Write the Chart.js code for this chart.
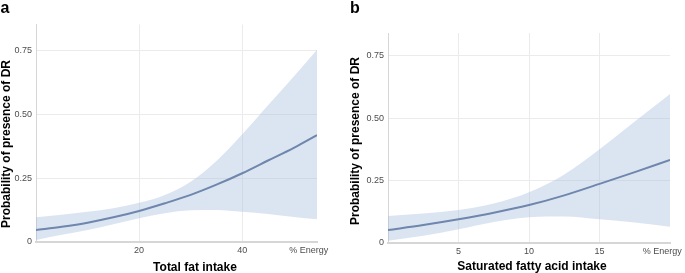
<!DOCTYPE html>
<html>
<head>
<meta charset="utf-8">
<script src="https://cdn.jsdelivr.net/npm/chart.js@4/dist/chart.umd.min.js"></script>
<style>
  html, body { margin: 0; padding: 0; background: #ffffff; }
  #wrap { position: relative; width: 685px; height: 273px; overflow: hidden; }
  canvas { position: absolute; top: 0; }
</style>
</head>
<body>
<div id="wrap">
  <canvas id="ca" width="340" height="273" style="left:0px"></canvas>
  <canvas id="cb" width="345" height="273" style="left:340px"></canvas>
</div>
<script>
// ---- Data ----
const yTickValues = [0, 0.25, 0.5, 0.75];
const unitLabel = '% Energy';

// Panel a: Total fat intake (% energy)
const fatX     = [0, 5, 10, 15, 20, 25, 30, 35, 40, 45, 50, 54.5];
const fatFit   = [0.047, 0.060, 0.076, 0.097, 0.122, 0.152, 0.185, 0.225, 0.270, 0.320, 0.370, 0.420];
const fatUpper = [0.097, 0.107, 0.119, 0.133, 0.154, 0.185, 0.237, 0.318, 0.423, 0.537, 0.650, 0.755];
const fatLower = [0.008, 0.028, 0.047, 0.070, 0.093, 0.113, 0.125, 0.126, 0.119, 0.110, 0.098, 0.089];
const fatTicks = [20, 40];

// Panel b: Saturated fatty acid intake (% energy)
const sfaX     = [0, 2.5, 5, 7.5, 10, 12.5, 15, 17.5, 20];
const sfaFit   = [0.052, 0.072, 0.095, 0.121, 0.152, 0.191, 0.237, 0.284, 0.333];
const sfaUpper = [0.108, 0.118, 0.132, 0.158, 0.203, 0.275, 0.376, 0.487, 0.598];
const sfaLower = [0.009, 0.029, 0.055, 0.084, 0.103, 0.106, 0.095, 0.082, 0.065];
const sfaTicks = [5, 10, 15];

// ---- Styles ----
const FONT = '"Liberation Sans", Arial, Helvetica, sans-serif';
const LINE_COLOR = '#6f86ad';
const BAND_COLOR = 'rgba(165,188,220,0.40)';
const GRID_COLOR = '#ebebeb';
const AXIS_COLOR = '#d6d6d6';
const TICK_COLOR = '#4d4d4d';

function pts(xs, ys) { return xs.map((x, i) => ({ x: x, y: ys[i] })); }

function makeChart(id, d, L) {
  const textPlugin = {
    id: 'texts' + id,
    afterDraw(chart) {
      const ctx = chart.ctx;
      ctx.save();
      ctx.fillStyle = '#000000';
      ctx.textAlign = 'center';
      ctx.textBaseline = 'alphabetic';
      ctx.font = 'bold 16px ' + FONT;
      ctx.fillText(d.letter, L.letterX, L.letterY);
      ctx.textBaseline = 'middle';
      ctx.font = 'bold 12px ' + FONT;
      ctx.fillText(d.xTitle, L.xTitleX, L.xTitleY);
      ctx.translate(L.yTitleX, L.yTitleY);
      ctx.rotate(-Math.PI / 2);
      ctx.fillText(d.yTitle, 0, 0);
      ctx.restore();
    }
  };
  return new Chart(document.getElementById(id), {
    type: 'line',
    data: {
      datasets: [
        { data: pts(d.x, d.fit), borderColor: LINE_COLOR, borderWidth: 2, pointRadius: 0,
          fill: false, cubicInterpolationMode: 'monotone' },
        { data: pts(d.x, d.upper), borderWidth: 0, borderColor: 'rgba(0,0,0,0)', pointRadius: 0,
          backgroundColor: BAND_COLOR, fill: '+1', cubicInterpolationMode: 'monotone' },
        { data: pts(d.x, d.lower), borderWidth: 0, borderColor: 'rgba(0,0,0,0)', pointRadius: 0,
          fill: false, cubicInterpolationMode: 'monotone' }
      ]
    },
    options: {
      responsive: false,
      animation: false,
      devicePixelRatio: 1,
      layout: { padding: { left: 0, top: L.top, right: L.right, bottom: 0 } },
      plugins: { legend: { display: false }, tooltip: { enabled: false } },
      scales: {
        x: {
          type: 'linear', min: d.xMin, max: d.xMax,
          afterFit(s) { s.height = L.xAxisH; },
          afterBuildTicks(s) {
            s.ticks = d.ticks.map(v => ({ value: v })).concat([{ value: d.unitPos, unit: true }]);
          },
          ticks: {
            font: { size: 9, family: FONT }, color: TICK_COLOR, padding: 3, maxRotation: 0,
            autoSkip: false,
            callback(v) { return v === d.unitPos ? unitLabel : String(v); }
          },
          grid: {
            drawTicks: false, lineWidth: 1,
            color(c) { return (c.tick && c.tick.value === d.unitPos) ? 'rgba(0,0,0,0)' : GRID_COLOR; }
          },
          border: { display: true, color: AXIS_COLOR, width: 2 }
        },
        y: {
          type: 'linear', min: 0, max: d.yMax,
          afterFit(s) { s.width = L.yAxisW; },
          afterBuildTicks(s) { s.ticks = yTickValues.map(v => ({ value: v })); },
          ticks: {
            font: { size: 9, family: FONT }, color: TICK_COLOR, padding: 4,
            callback(v) { return v === 0 ? '0' : v.toFixed(2); }
          },
          grid: { drawTicks: false, color: GRID_COLOR, lineWidth: 1 },
          border: { display: true, color: AXIS_COLOR, width: 1 }
        }
      }
    },
    plugins: [textPlugin]
  });
}

makeChart('ca', {
  letter: 'a', xTitle: 'Total fat intake', yTitle: 'Probability of presence of DR',
  x: fatX, fit: fatFit, upper: fatUpper, lower: fatLower, ticks: fatTicks,
  xMin: 0, xMax: 54.5, yMax: 0.854, unitPos: 52.9
}, { top: 24.5, right: 23, xAxisH: 31, yAxisW: 36,
     letterX: 5, letterY: 13, xTitleX: 195, xTitleY: 268, yTitleX: 7, yTitleY: 144 });

makeChart('cb', {
  letter: 'b', xTitle: 'Saturated fatty acid intake', yTitle: 'Probability of presence of DR',
  x: sfaX, fit: sfaFit, upper: sfaUpper, lower: sfaLower, ticks: sfaTicks,
  xMin: 0, xMax: 20, yMax: 0.842, unitPos: 19.44
}, { top: 33, right: 12, xAxisH: 30, yAxisW: 48,
     letterX: 15, letterY: 13, xTitleX: 192, xTitleY: 267, yTitleX: 16, yTitleY: 141 });
</script>
</body>
</html>
